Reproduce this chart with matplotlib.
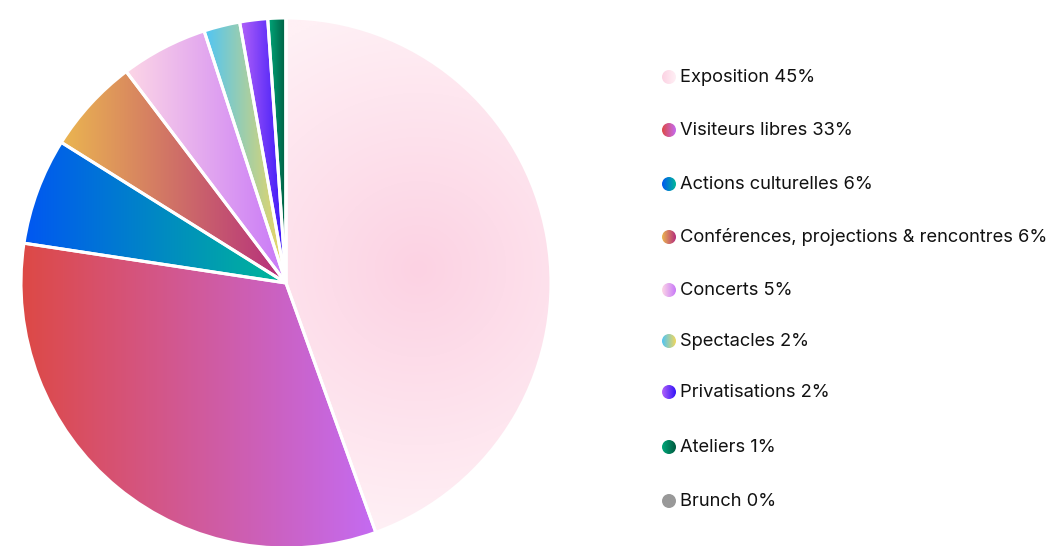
import numpy as np
import matplotlib
matplotlib.use("Agg")
import matplotlib.pyplot as plt
from matplotlib.colors import to_rgb
from matplotlib.patches import Circle

plt.rcParams['font.family'] = ['Inter', 'DejaVu Sans']

# data
categories = ['Exposition', 'Visiteurs libres', 'Actions culturelles',
              'Conférences, projections & rencontres', 'Concerts', 'Spectacles',
              'Privatisations', 'Ateliers', 'Brunch']
shares = [44.5, 32.9, 6.5, 5.8, 5.3, 2.2, 1.7, 1.1, 0.0]
legend_pct = ['45%', '33%', '6%', '6%', '5%', '2%', '2%', '1%', '0%']

# gradient colours (left -> right), Exposition is radial (centre -> edge)
grad_start = ['#fcd2e3', '#dd4945', '#0057f2', '#ebb650', '#fdd7e6', '#4fc5f6',
              '#b262f8', '#00a87a', '#999999']
grad_end = ['#fff0f5', '#c46bf2', '#00b897', '#b52d7d', '#c878f8', '#f2d75c',
            '#3213f8', '#005a3f', '#999999']

fig = plt.figure(figsize=(10.56, 5.46), dpi=100)
W, H = 1056, 546
cx, cy, r = 286, 283, 265
ax = fig.add_axes([(cx - r) / W, (H - cy - r) / H, 2 * r / W, 2 * r / H])

wedges, _ = ax.pie(shares, startangle=90, counterclock=False, radius=1,
                   wedgeprops=dict(facecolor='none', edgecolor='white', linewidth=2.2))
ax.set_xlim(-1, 1)
ax.set_ylim(-1, 1)
ax.axis('off')
for w in wedges:
    w.set_zorder(5)


def hgrad(c0, c1, n=256):
    a, b = np.array(to_rgb(c0)), np.array(to_rgb(c1))
    t = np.linspace(0, 1, n)[None, :, None]
    return a + (b - a) * t


for i, w in enumerate(wedges):
    if shares[i] <= 0:
        continue
    bb = w.get_path().get_extents()
    ext = (bb.x0, bb.x1, bb.y0, bb.y1)
    if i == 0:
        n = 300
        xs = np.linspace(bb.x0, bb.x1, n)
        ys = np.linspace(bb.y1, bb.y0, n)
        X, Y = np.meshgrid(xs, ys)
        gx, gy = 0.5, 0.05
        d = np.sqrt((X - gx) ** 2 + (Y - gy) ** 2)
        d = np.clip(d, 0, 1)[..., None]
        a, b = np.array(to_rgb(grad_start[i])), np.array(to_rgb(grad_end[i]))
        img = a + (b - a) * d
    else:
        img = hgrad(grad_start[i], grad_end[i])
    im = ax.imshow(img, extent=ext, aspect='auto', zorder=2, interpolation='bilinear')
    im.set_clip_path(w)
ax.set_xlim(-1, 1)
ax.set_ylim(-1, 1)

# legend drawn in pixel coordinates
lax = fig.add_axes([0, 0, 1, 1])
lax.axis('off')
row_y = [77, 130, 184, 237, 290, 341, 392, 447, 501]
for i, (cat, pct) in enumerate(zip(categories, legend_pct)):
    y = row_y[i]
    circ = Circle((669, y), 7, facecolor='none', edgecolor='none')
    lax.add_patch(circ)
    im = lax.imshow(hgrad(grad_start[i], grad_end[i]),
                    extent=(662, 676, y + 7, y - 7), aspect='auto', zorder=2)
    im.set_clip_path(circ)
    lax.text(680, y + 0.5, f'{cat} {pct}', fontsize=13.2, va='center', ha='left',
             color='#111111')
lax.set_xlim(0, W)
lax.set_ylim(H, 0)

fig.savefig('out.png', dpi=100)
